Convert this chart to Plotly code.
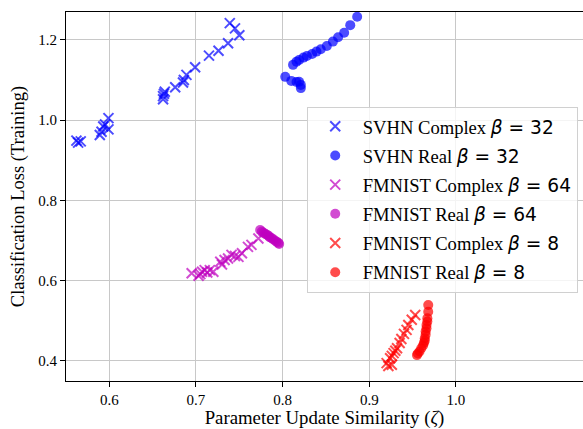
import plotly.graph_objects as go

# SVHN Complex beta=32
svhn_c_x = [0.562, 0.564, 0.567, 0.589, 0.591, 0.593, 0.595, 0.599, 0.599, 0.662, 0.662, 0.663, 0.664, 0.676,
            0.685, 0.686, 0.689, 0.699, 0.715, 0.726, 0.737, 0.739, 0.745, 0.750]
svhn_c_y = [0.949, 0.944, 0.947, 0.963, 0.971, 0.984, 0.989, 0.977, 1.005, 1.052, 1.060, 1.066, 1.071, 1.082,
            1.094, 1.100, 1.113, 1.132, 1.161, 1.173, 1.192, 1.242, 1.229, 1.212]

# SVHN Real beta=32
svhn_r_x = [0.803, 0.810, 0.816, 0.819, 0.821, 0.821, 0.812, 0.816, 0.819, 0.824, 0.828, 0.834, 0.839, 0.844,
            0.851, 0.858, 0.864, 0.871, 0.878, 0.886]
svhn_r_y = [1.108, 1.098, 1.095, 1.096, 1.088, 1.080, 1.138, 1.146, 1.150, 1.156, 1.160, 1.165, 1.171, 1.177,
            1.185, 1.196, 1.207, 1.218, 1.237, 1.258]

# FMNIST Complex beta=64
fm64_c_x = [0.695, 0.703, 0.705, 0.707, 0.710, 0.713, 0.716, 0.720, 0.728, 0.730, 0.733, 0.737, 0.741, 0.745,
            0.749, 0.753, 0.760, 0.764, 0.772]
fm64_c_y = [0.618, 0.612, 0.616, 0.622, 0.626, 0.620, 0.626, 0.622, 0.647, 0.640, 0.651, 0.655, 0.664, 0.661,
            0.659, 0.668, 0.684, 0.689, 0.705]

# FMNIST Real beta=64
fm64_r_x = [0.774, 0.776, 0.778, 0.780, 0.782, 0.784, 0.785, 0.787, 0.789, 0.791, 0.793, 0.795, 0.796]
fm64_r_y = [0.726, 0.722, 0.719, 0.716, 0.714, 0.711, 0.708, 0.706, 0.703, 0.700, 0.697, 0.694, 0.691]

# FMNIST Complex beta=8
fm8_c_x = [0.920, 0.922, 0.926, 0.924, 0.926, 0.928, 0.930, 0.932, 0.935, 0.937, 0.940, 0.943, 0.945, 0.949, 0.953]
fm8_c_y = [0.394, 0.387, 0.390, 0.406, 0.412, 0.419, 0.425, 0.431, 0.444, 0.454, 0.467, 0.477, 0.489, 0.502, 0.514]

# FMNIST Real beta=8
fm8_r_x = [0.955, 0.956, 0.958, 0.960, 0.962, 0.963, 0.964, 0.964, 0.965, 0.965, 0.966, 0.966, 0.967, 0.967,
           0.968, 0.968]
fm8_r_y = [0.414, 0.418, 0.423, 0.431, 0.438, 0.444, 0.450, 0.456, 0.465, 0.473, 0.481, 0.489, 0.498, 0.506,
           0.522, 0.539]

x_ticks = [0.6, 0.7, 0.8, 0.9, 1.0]
y_ticks = [0.4, 0.6, 0.8, 1.0, 1.2]

MATH = "DejaVu Sans"
def lab(name, beta):
    return f"{name} <span style=\"font-family:'{MATH}'\"><i>β</i> = {beta}</span>"

series = [
    (svhn_c_x, svhn_c_y, lab("SVHN Complex", 32), "x-thin", "rgba(0,0,255,0.7)"),
    (svhn_r_x, svhn_r_y, lab("SVHN Real", 32), "circle", "rgba(0,0,255,0.7)"),
    (fm64_c_x, fm64_c_y, lab("FMNIST Complex", 64), "x-thin", "rgba(191,0,191,0.7)"),
    (fm64_r_x, fm64_r_y, lab("FMNIST Real", 64), "circle", "rgba(191,0,191,0.7)"),
    (fm8_c_x, fm8_c_y, lab("FMNIST Complex", 8), "x-thin", "rgba(255,0,0,0.7)"),
    (fm8_r_x, fm8_r_y, lab("FMNIST Real", 8), "circle", "rgba(255,0,0,0.7)"),
]

fig = go.Figure()
for i, (xs, ys, name, sym, col) in enumerate(series):
    if sym == "x-thin":
        marker = dict(symbol=sym, size=10, color=col, line=dict(color=col, width=2))
    else:
        marker = dict(symbol=sym, size=10, color=col, line=dict(width=0))
    fig.add_trace(go.Scatter(x=xs, y=ys, mode="markers", name=name, marker=marker,
                             legendgroup=f"g{i}"))

font_family = "Liberation Serif"
fig.update_layout(
    width=583, height=429,
    margin=dict(l=66, r=0, t=12, b=48),
    plot_bgcolor="white", paper_bgcolor="white",
    font=dict(family=font_family, size=15, color="black"),
    showlegend=True,
    legend=dict(
        x=0.4656, y=0.7434, xanchor="left", yanchor="top",
        bgcolor="rgba(255,255,255,0.8)", bordercolor="#d0d0d0", borderwidth=1,
        font=dict(family=font_family, size=18.6, color="black"),
        tracegroupgap=2, itemwidth=45,
    ),
)
fig.update_xaxes(
    range=[0.55, 1.1466], tickvals=x_ticks, ticktext=[f"{v:.1f}" for v in x_ticks],
    showgrid=True, gridcolor="#c8c8c8", gridwidth=1,
    showline=True, linecolor="black", linewidth=1, mirror=True,
    ticks="outside", ticklen=5, tickcolor="black", zeroline=False,
    tickfont=dict(size=15),
    title=dict(text="Parameter Update Similarity (<i>ζ</i>)", font=dict(size=18.8), standoff=5),
)
fig.update_yaxes(
    range=[0.3494, 1.2698], tickvals=y_ticks, ticktext=[f"{v:.1f}" for v in y_ticks],
    showgrid=True, gridcolor="#c8c8c8", gridwidth=1,
    showline=True, linecolor="black", linewidth=1,
    ticks="outside", ticklen=5, tickcolor="black", zeroline=False,
    tickfont=dict(size=15),
    title=dict(text="Classification Loss (Training)", font=dict(size=18.5), standoff=8),
)

fig.write_html("out.html")
